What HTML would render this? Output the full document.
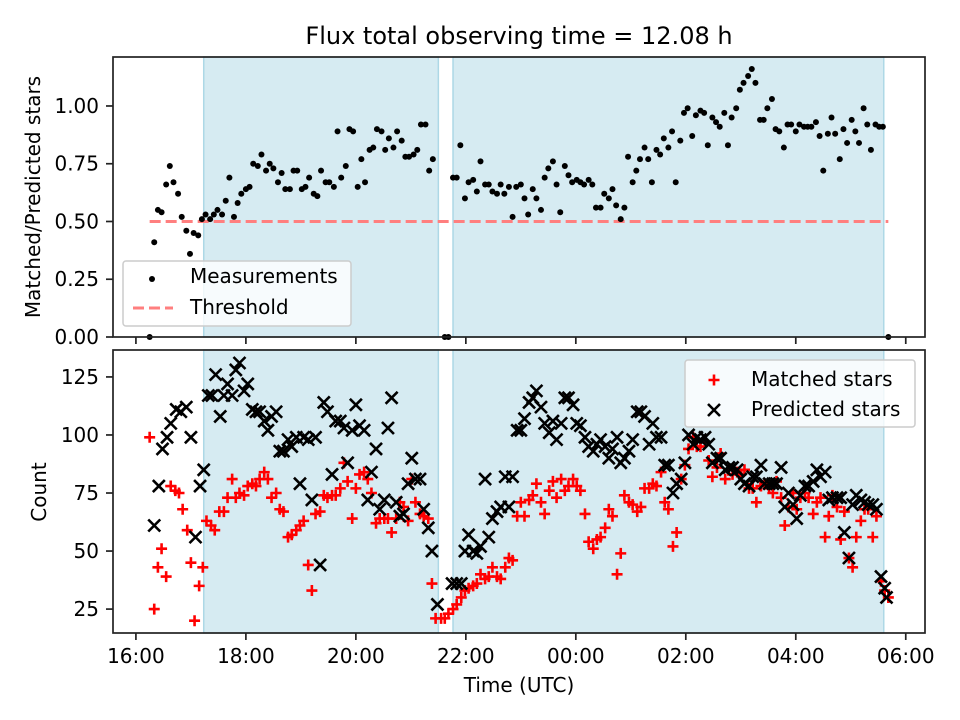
<!DOCTYPE html>
<html><head><meta charset="utf-8"><style>
html,body{margin:0;padding:0;background:#fff;}
svg{display:block;font-family:"DejaVu Sans","Liberation Sans",sans-serif;}
</style></head><body>
<svg id="c" width="960" height="720" viewBox="0 0 960 720" xmlns="http://www.w3.org/2000/svg"></svg>
<script>
// times in minutes since 16:00 UTC
const ratioTimes=[15,20,24,28,33,37,41,46,50,55,59,63,68,72,76,81,85,89,94,98,102,107,111,115,120,124,128,133,137,142,146,150,155,159,163,168,172,176,181,185,189,194,198,202,207,211,216,220,224,229,233,237,242,246,250,255,259,263,268,272,276,281,285,290,294,298,303,307,311,316,320,324,
337,341,
346,350,354,359,363,368,372,376,381,385,389,394,398,402,407,411,415,420,424,428,433,437,442,446,450,455,459,463,468,472,476,481,485,489,494,498,502,507,511,516,520,524,529,533,537,542,546,550,555,559,563,568,572,576,581,585,589,594,598,602,607,611,616,620,624,629,633,637,642,646,650,655,659,663,668,672,676,681,685,689,694,698,702,707,711,715,720,724,729,733,737,742,746,750,755,759,763,768,772,776,781,785,789,794,798,802,807,811,815,
821];
const ratioValues=[0,.41,.55,.54,.66,.74,.67,.62,.52,.46,.36,.45,.44,.51,.53,.51,.53,.55,.53,.59,.69,.52,.58,.62,.64,.65,.75,.74,.79,.72,.75,.73,.67,.71,.64,.64,.72,.72,.64,.65,.69,.62,.61,.72,.67,.67,.65,.89,.69,.74,.90,.89,.65,.77,.67,.81,.82,.90,.89,.81,.86,.82,.89,.85,.78,.78,.79,.81,.92,.92,.72,.77,
0,0,
.69,.69,.83,.60,.67,.68,.63,.76,.66,.66,.63,.62,.66,.62,.65,.52,.65,.66,.60,.53,.64,.60,.55,.69,.73,.76,.66,.54,.74,.70,.67,.68,.67,.66,.68,.66,.56,.56,.62,.60,.64,.57,.51,.56,.78,.67,.72,.77,.82,.77,.67,.81,.79,.86,.82,.89,.67,.85,.97,.99,.87,.96,.98,.97,.83,.95,.93,.91,.97,.83,.95,.99,1.07,1.10,1.13,1.16,1.10,.94,.94,.99,1.03,.90,.89,.82,.92,.92,.89,.92,.91,.91,.91,.93,.87,.72,.88,.95,.88,.77,.90,.84,.94,.89,.84,.99,.92,.81,.92,.91,.91,
0];
const predTimes=[20,25,29,34,38,44,49,55,60,65,70,74,79,83,87,92,96,100,105,109,113,118,122,127,131,135,140,144,148,153,157,161,166,170,175,179,183,188,192,196,201,205,209,214,218,223,227,231,236,240,244,249,253,257,262,266,271,275,279,284,288,292,297,301,305,310,314,319,323,329,
345,350,355,359,363,368,372,376,381,385,389,394,398,403,407,411,416,420,424,429,433,437,442,446,451,455,459,464,468,472,477,481,485,490,494,499,503,507,512,516,520,525,529,533,538,542,547,551,555,560,564,568,573,577,581,586,590,595,599,603,608,612,616,621,625,629,634,638,643,647,651,656,660,664,669,673,677,682,686,691,695,699,704,708,712,717,721,725,730,734,739,743,747,752,756,760,765,769,773,778,782,786,791,795,799,804,808,813,817,819];
const predValues=[61,78,94,99,105,111,110,112,99,56,78,85,117,117,126,108,117,122,117,128,131,119,122,111,110,110,106,102,108,110,93,93,98,95,99,79,99,98,72,99,44,114,110,83,106,106,103,88,102,113,104,102,72,84,94,68,72,103,116,71,65,66,79,90,81,81,68,60,50,27,
36,36,36,50,57,50,49,52,81,56,64,67,69,82,69,82,102,102,107,114,116,119,112,105,101,106,98,105,116,116,113,105,104,99,95,93,96,98,95,90,94,99,88,90,93,98,110,110,108,96,105,99,99,87,87,75,79,81,88,100,96,99,98,99,96,88,90,90,85,86,86,85,81,79,78,82,82,87,79,79,79,79,86,69,75,70,64,74,78,78,80,85,82,84,72,73,73,73,58,47,70,74,72,71,70,70,68,39,34,30];
const matchTimes=[15,20,24,28,33,38,43,47,51,56,60,64,69,73,77,82,86,91,96,100,105,109,113,118,122,127,131,135,140,144,148,153,157,161,166,170,175,179,183,188,192,196,201,205,209,214,218,223,227,231,236,240,244,249,253,257,262,266,271,275,279,284,288,292,297,301,305,310,314,319,323,327,
333,337,341,346,350,355,359,363,368,372,376,381,385,389,394,398,403,407,411,416,420,424,429,433,437,442,446,451,455,459,464,468,472,477,481,485,490,494,499,503,507,512,516,520,525,529,533,538,542,547,551,555,560,564,568,573,577,581,586,590,595,599,603,608,612,616,621,625,629,634,638,643,647,651,656,660,664,669,673,677,682,686,691,695,699,704,708,712,717,721,725,730,734,739,743,747,752,756,760,765,769,773,778,782,786,791,795,799,804,808,813,817,821];
const matchValues=[99,25,43,51,39,78,76,75,68,59,45,20,35,43,63,61,59,67,67,73,81,73,75,74,78,79,78,81,84,81,73,75,68,67,56,57,59,61,63,44,33,66,67,74,73,74,74,77,88,80,64,77,83,84,81,75,62,64,64,64,58,64,71,69,63,81,71,66,65,64,36,21,
21,21,23,25,27,30,33,34,35,36,40,38,39,43,39,38,43,47,46,65,71,65,72,74,79,71,66,76,80,73,81,76,78,81,78,76,66,54,51,55,56,60,68,65,40,49,74,71,70,67,69,77,77,79,78,84,71,68,52,58,81,87,94,99,95,95,97,89,82,86,92,81,85,83,84,83,85,77,77,71,78,79,77,75,80,73,61,69,75,68,73,75,73,66,71,73,56,65,74,69,55,67,47,43,56,63,68,68,56,65,37,33,30];
const xTickLabels=["16:00","18:00","20:00","22:00","00:00","02:00","04:00","06:00"];
const xTickMinutes=[0,120,240,360,480,600,720,840];
const topTicks=[0,0.25,0.5,0.75,1.0];
const botTicks=[25,50,75,100,125];
const shadeRanges=[[74,330],[346,816]];
const threshold=0.5, thrStart=15, thrEnd=821;

const L=113,R=925, T1=57,B1=337, T2=350,B2=633;
const xMin=-25, xMax=861;
const FS=20;
const X=m=>L+(m-xMin)/(xMax-xMin)*(R-L);
const yTop=v=>B1-(v-0)/(1.212-0)*(B1-T1);
const yBot=v=>B2-(v-14.7)/(136.6-14.7)*(B2-T2);
const svg=document.getElementById('c');
const NS='http://www.w3.org/2000/svg';
function el(tag,attrs,parent){const e=document.createElementNS(NS,tag);for(const k in attrs)e.setAttribute(k,attrs[k]);(parent||svg).appendChild(e);return e;}
function txt(s,attrs,parent){const e=el('text',attrs,parent);e.textContent=s;return e;}

[[T1,B1,'top'],[T2,B2,'bottom']].forEach(([t,b,nm])=>{
  const g=el('g',{});
  
  
  shadeRanges.forEach((r,i)=>{
    const s=el('rect',{x:X(r[0]),y:t,width:X(r[1])-X(r[0]),height:b-t,fill:'#add8e6','fill-opacity':0.5,stroke:'#add8e6','stroke-width':1.5},g);
    
    
  });
});

const thr=el('line',{x1:X(thrStart),x2:X(thrEnd),y1:yTop(threshold),y2:yTop(threshold),stroke:'#ff7f7f','stroke-width':3,'stroke-dasharray':'11,5'});


const n1=Math.min(ratioTimes.length,ratioValues.length);
for(let i=0;i<n1;i++){
  const c=el('circle',{cx:X(ratioTimes[i]),cy:yTop(ratioValues[i]),r:3,fill:'#000'});
  
  
}
const n3=Math.min(matchTimes.length,matchValues.length);
for(let i=0;i<n3;i++){
  const x=X(matchTimes[i]),y=yBot(matchValues[i]),s=5.5;
  const p=el('path',{d:`M${x-s},${y}H${x+s}M${x},${y-s}V${y+s}`,stroke:'#ff0000','stroke-width':2.6,fill:'none'});
  
  
}
const n2=Math.min(predTimes.length,predValues.length);
for(let i=0;i<n2;i++){
  const x=X(predTimes[i]),y=yBot(predValues[i]),s=6;
  const p=el('path',{d:`M${x-s},${y-s}L${x+s},${y+s}M${x-s},${y+s}L${x+s},${y-s}`,stroke:'#000','stroke-width':2.6,fill:'none'});
  
  
}

[[T1,B1,topTicks,yTop,'top',v=>v.toFixed(2),false],[T2,B2,botTicks,yBot,'bottom',v=>String(v),true]].forEach(([t,b,ticks,yf,nm,fmt,xlabels])=>{
  const f=el('rect',{x:L,y:t,width:R-L,height:b-t,fill:'none',stroke:'#222','stroke-width':1.7});
  
  
  ticks.forEach(v=>{
    const y=yf(v);
    el('line',{x1:L-7,x2:L,y1:y,y2:y,stroke:'#222','stroke-width':1.7});
    const tl=txt(fmt(v),{x:L-14,y:y+7,'text-anchor':'end','font-size':FS,fill:'#000'});
    
    
  });
  xTickMinutes.forEach((m,i)=>{
    const x=X(m);
    el('line',{x1:x,x2:x,y1:b,y2:b+7,stroke:'#222','stroke-width':1.7});
    if(xlabels){
      const tl=txt(xTickLabels[i],{x:x,y:b+30,'text-anchor':'middle','font-size':FS,fill:'#000'});
      
      
    }
  });
});

const title=txt('Flux total observing time = 12.08 h',{x:519,y:44,'text-anchor':'middle','font-size':24,fill:'#000'});


const xl=txt('Time (UTC)',{x:519,y:692,'text-anchor':'middle','font-size':FS,fill:'#000'});


const yl1=txt('Matched/Predicted stars',{x:0,y:0,'text-anchor':'middle','font-size':FS,fill:'#000',transform:`translate(40,197) rotate(-90)`});


const yl2=txt('Count',{x:0,y:0,'text-anchor':'middle','font-size':FS,fill:'#000',transform:`translate(46,492) rotate(-90)`});



const lg1=el('g',{});


el('rect',{x:123,y:261,width:228,height:65,rx:3,fill:'#fff','fill-opacity':0.8,stroke:'#ccc','stroke-width':1.5},lg1);
el('circle',{cx:152,cy:279,r:3,fill:'#000'},lg1);
const le1=txt('Measurements',{x:190,y:283,'font-size':FS,fill:'#000'},lg1);


el('line',{x1:133,x2:173,y1:308,y2:308,stroke:'#ff7f7f','stroke-width':3,'stroke-dasharray':'11,5'},lg1);
const le2=txt('Threshold',{x:190,y:314,'font-size':FS,fill:'#000'},lg1);



const lg2=el('g',{});


el('rect',{x:685,y:360,width:230,height:67,rx:3,fill:'#fff','fill-opacity':0.8,stroke:'#ccc','stroke-width':1.5},lg2);
el('path',{d:'M708.5,380H719.5M714,374.5V385.5',stroke:'#ff0000','stroke-width':2.6},lg2);
const le3=txt('Matched stars',{x:751,y:386,'font-size':FS,fill:'#000'},lg2);


el('path',{d:'M708,404L720,416M708,416L720,404',stroke:'#000','stroke-width':2.6},lg2);
const le4=txt('Predicted stars',{x:751,y:416,'font-size':FS,fill:'#000'},lg2);


</script>
</body></html>
